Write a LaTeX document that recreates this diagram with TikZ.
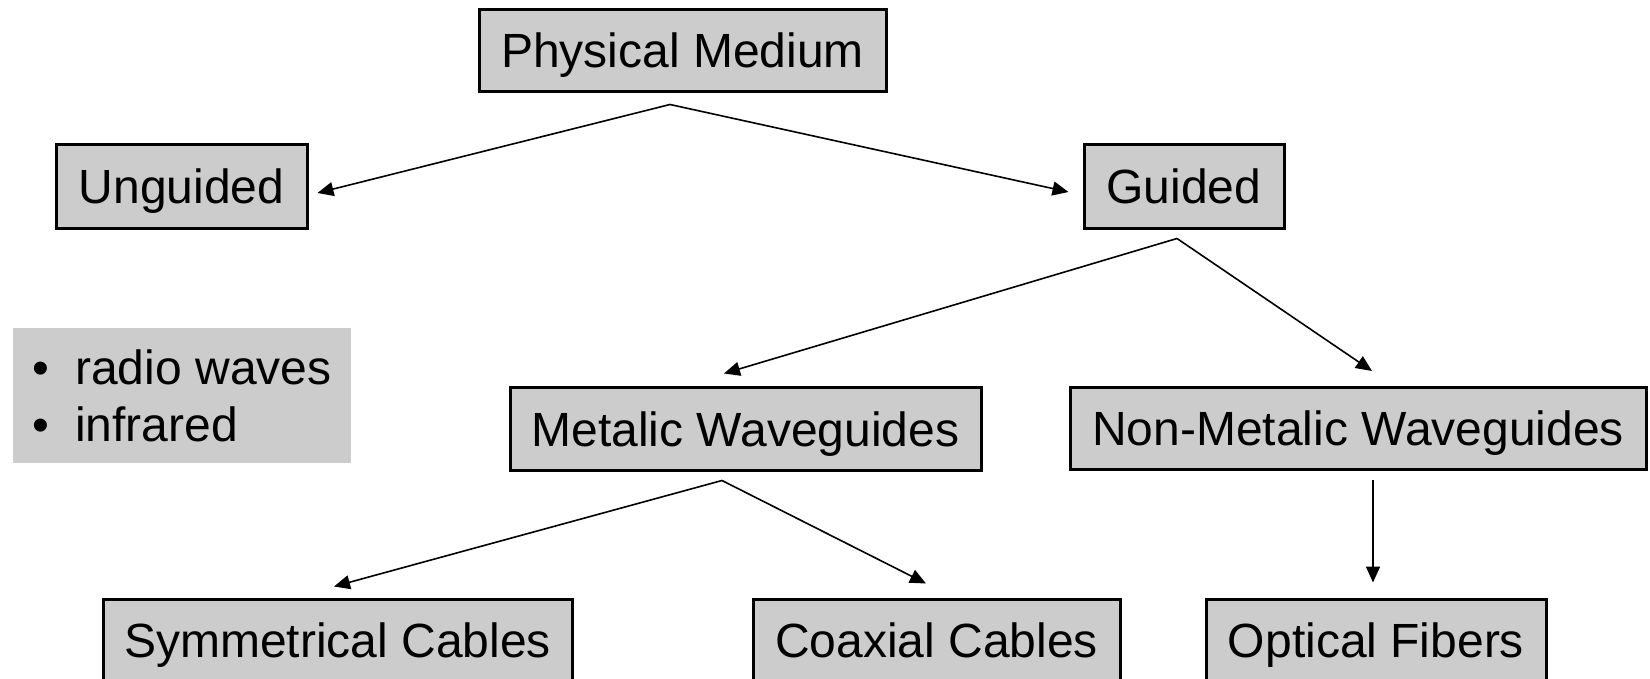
\documentclass[tikz,border=0pt]{standalone}
\usepackage{fontspec}
\setmainfont{Liberation Sans}
\usetikzlibrary{arrows.meta,calc}

\begin{document}
\begin{tikzpicture}[x=0.5pt, y=-0.5pt,
  box/.style={draw, line width=1.5pt, fill=black!20, inner sep=0pt, minimum height=41pt,
    text height=17pt, text depth=0pt, font=\fontsize{24}{28}\selectfont},
  arr/.style={line width=0.8pt, -{Triangle[length=8pt,width=7pt]}}]

\useasboundingbox (0,0) rectangle (1650,679);

\node[box, minimum width=203.5pt] (pm) at (682.5,51) {Physical Medium};
\node[box, minimum width=125.5pt, minimum height=42pt] (ung) at (181.5,187) {Unguided};
\node[box, minimum width=100pt, minimum height=42pt] (gui) at (1184,187) {Guided};
\node[box, minimum width=235.5pt] (met) at (745.5,429) {Metalic Waveguides};
\node[box, minimum width=288pt] (nmet) at (1358,428.5) {Non-Metalic Waveguides};
\node[box, minimum width=234.5pt] (sym) at (337.5,640) {Symmetrical Cables};
\node[box, minimum width=183.5pt] (coax) at (936.5,640) {Coaxial Cables};
\node[box, minimum width=170pt] (opt) at (1376,640) {Optical Fibers};
\node[fill=black!20, inner sep=0pt, align=left, minimum width=169pt,
  minimum height=67.5pt, font=\fontsize{24}{28.5}\selectfont] (unlist) at (182,395.5)
  {•\hspace{13pt}radio waves\\ •\hspace{13pt}infrared};

\draw[arr] ($(pm.south)+(-12.5,11)$) -- ($(ung.east)+(9,6)$);
\draw[arr] ($(pm.south)+(-12.5,11)$) -- ($(gui.west)+(-14,5)$);
\draw[arr] ($(gui.south)+(-7,8)$) -- ($(met.north)+(-21.5,-13)$);
\draw[arr] ($(gui.south)+(-7,8)$) -- ($(nmet.north)+(14,-15)$);
\draw[arr] ($(met.south)+(-23.5,9)$) -- ($(sym.north)+(-3.5,-11)$);
\draw[arr] ($(met.south)+(-23.5,9)$) -- ($(coax.north)+(-10.5,-14)$);
\draw[arr] ($(nmet.south)+(15,9)$) -- ($(opt.north)+(-3,-15)$);
\end{tikzpicture}
\end{document}
